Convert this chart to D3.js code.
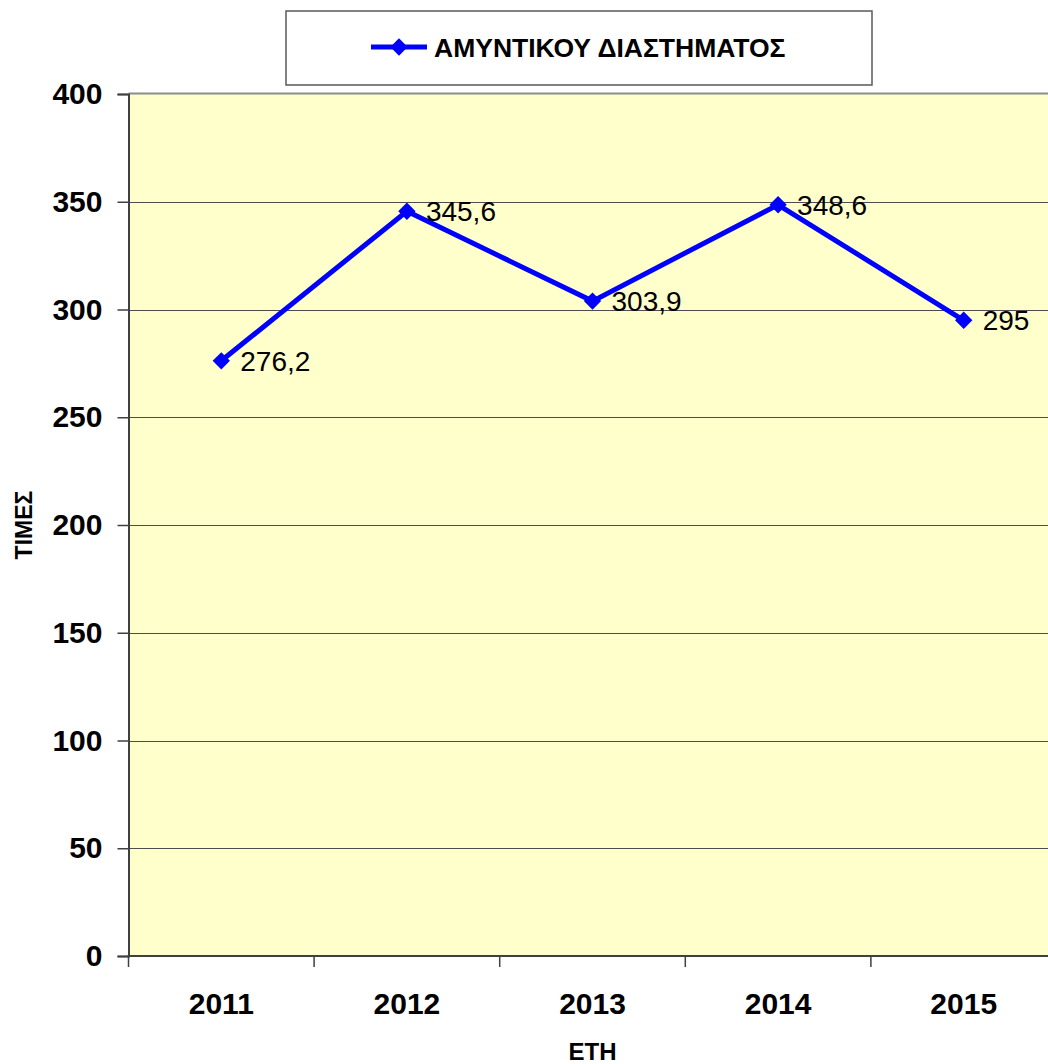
<!DOCTYPE html>
<html>
<head>
<meta charset="utf-8">
<script src="https://cdn.jsdelivr.net/npm/d3@7"></script>
<style>
  html, body { margin: 0; padding: 0; background: #ffffff; }
  svg { display: block; }
  text { font-family: "Liberation Sans", Arial, sans-serif; }
</style>
</head>
<body>
<svg id="chart" width="1048" height="1064"></svg>
<script>
const categories = ["2011", "2012", "2013", "2014", "2015"];
const values = [276.2, 345.6, 303.9, 348.6, 295];
const valueLabels = ["276,2", "345,6", "303,9", "348,6", "295"];
const yTicks = [0, 50, 100, 150, 200, 250, 300, 350, 400];
const seriesName = "ΑΜΥΝΤΙΚΟΥ ΔΙΑΣΤΗΜΑΤΟΣ";
const xTitle = "ΕΤΗ";
const yTitle = "ΤΙΜΕΣ";

const svg = d3.select("#chart");
const W = 1048, H = 1064;
const plot = { left: 128.5, right: 1056.5, top: 94, bottom: 956 };

const x = d3.scaleBand().domain(categories).range([plot.left, plot.right]).paddingInner(0).paddingOuter(0);
const y = d3.scaleLinear().domain([0, 400]).range([plot.bottom, plot.top]);

// plot background
svg.append("rect")
  .attr("x", plot.left).attr("y", plot.top)
  .attr("width", plot.right - plot.left).attr("height", plot.bottom - plot.top)
  .attr("fill", "#FFFFCC");

// top border
svg.append("line")
  .attr("x1", plot.left).attr("x2", W)
  .attr("y1", plot.top - 0.5).attr("y2", plot.top - 0.5)
  .attr("stroke", "#8c8c8c").attr("stroke-width", 2);

// gridlines
svg.append("g").selectAll("line").data(yTicks.filter(d => d > 0 && d < 400)).join("line")
  .attr("x1", plot.left).attr("x2", W)
  .attr("y1", d => Math.round(y(d)) + 0.5).attr("y2", d => Math.round(y(d)) + 0.5)
  .attr("stroke", "#4d4d4d").attr("stroke-width", 1);

// y axis
const yAxis = d3.axisLeft(y).tickValues(yTicks).tickSize(11).tickPadding(15).tickFormat(d3.format("d"));
const gy = svg.append("g").attr("transform", `translate(${plot.left},0)`).call(yAxis);
gy.select(".domain").attr("stroke", "#404040").attr("stroke-width", 2);
gy.selectAll(".tick line").attr("stroke", "#404040").attr("stroke-width", 1.5);
gy.selectAll(".tick text")
  .attr("font-family", "'Liberation Sans', Arial, sans-serif")
  .attr("font-size", 30).attr("font-weight", "bold").attr("fill", "#000");

// x axis (labels at band centres, ticks at band boundaries)
const xAxis = d3.axisBottom(x).tickSize(0).tickPadding(37);
const gx = svg.append("g").attr("transform", `translate(0,${plot.bottom})`).call(xAxis);
gx.select(".domain").remove();
gx.selectAll(".tick text")
  .attr("font-family", "'Liberation Sans', Arial, sans-serif")
  .attr("font-size", 30).attr("font-weight", "bold").attr("fill", "#000");

svg.append("line")
  .attr("x1", plot.left - 1).attr("x2", W)
  .attr("y1", plot.bottom).attr("y2", plot.bottom)
  .attr("stroke", "#404040").attr("stroke-width", 2);

const boundaries = categories.map(c => x(c)).concat([x(categories[categories.length - 1]) + x.bandwidth()]);
svg.append("g").selectAll("line").data(boundaries).join("line")
  .attr("x1", d => d).attr("x2", d => d)
  .attr("y1", plot.bottom).attr("y2", plot.bottom + 11)
  .attr("stroke", "#404040").attr("stroke-width", 1.5);

// axis titles
svg.append("text")
  .attr("x", (plot.left + plot.right) / 2).attr("y", 1060)
  .attr("text-anchor", "middle")
  .attr("font-size", 24).attr("font-weight", "bold").attr("fill", "#000")
  .text(xTitle);

svg.append("text")
  .attr("transform", `translate(32,${(plot.top + plot.bottom) / 2}) rotate(-90)`)
  .attr("text-anchor", "middle")
  .attr("font-size", 23).attr("font-weight", "bold").attr("fill", "#000")
  .text(yTitle);

// series line
const cx = d => x(d.cat) + x.bandwidth() / 2;
const pts = categories.map((c, i) => ({ cat: c, v: values[i], label: valueLabels[i] }));
svg.append("path")
  .datum(pts)
  .attr("fill", "none")
  .attr("stroke", "#0000FF").attr("stroke-width", 5).attr("stroke-linejoin", "miter")
  .attr("d", d3.line().x(cx).y(d => y(d.v)));

const diamond = d3.symbol().type(d3.symbolSquare).size(150);
svg.append("g").selectAll("path").data(pts).join("path")
  .attr("transform", d => `translate(${cx(d)},${y(d.v)}) rotate(45)`)
  .attr("d", diamond())
  .attr("fill", "#0000FF");

svg.append("g").selectAll("text").data(pts).join("text")
  .attr("x", d => cx(d) + 19)
  .attr("y", d => y(d.v) + 10)
  .attr("font-size", 28).attr("fill", "#000")
  .text(d => d.label);

// legend
const lg = svg.append("g");
lg.append("rect")
  .attr("x", 286).attr("y", 11).attr("width", 586).attr("height", 74)
  .attr("fill", "#fff").attr("stroke", "#595959").attr("stroke-width", 1.5);
lg.append("line")
  .attr("x1", 371).attr("x2", 427).attr("y1", 47).attr("y2", 47)
  .attr("stroke", "#0000FF").attr("stroke-width", 5);
lg.append("path")
  .attr("transform", "translate(399,47) rotate(45)")
  .attr("d", diamond())
  .attr("fill", "#0000FF");
lg.append("text")
  .attr("x", 434).attr("y", 56.5)
  .attr("font-size", 26.5).attr("font-weight", "bold").attr("fill", "#000")
  .text(seriesName);
</script>
</body>
</html>
